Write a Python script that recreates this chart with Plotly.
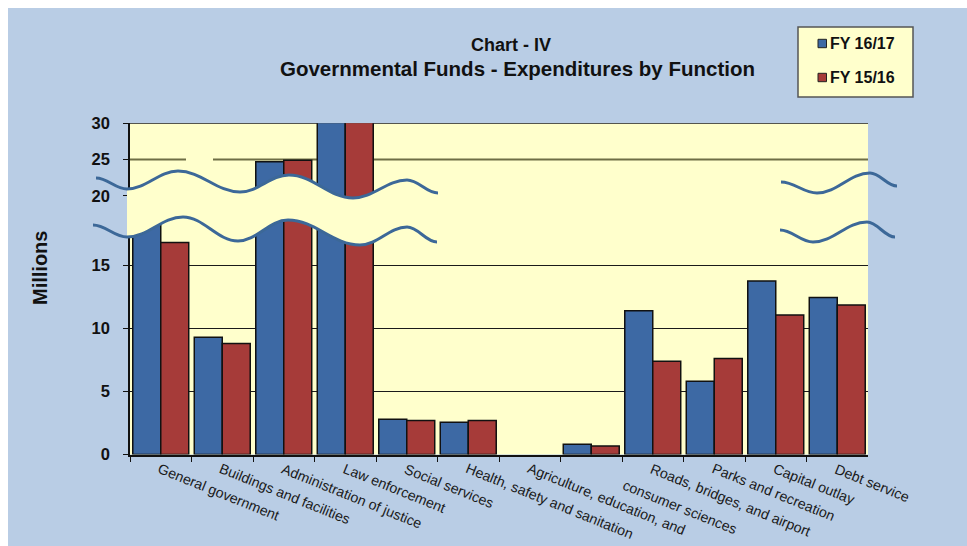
import plotly.graph_objects as go

# ---- data (millions) ----
categories = [
    "General government", "Buildings and facilities", "Administration of justice",
    "Law enforcement", "Social services", "Health, safety and sanitation",
    "Agriculture, education, and", "consumer sciences",
    "Roads, bridges, and airport", "Parks and recreation", "Capital outlay", "Debt service",
]
fy_1617 = [19.0, 9.3, 24.7, 33.0, 2.8, 2.55, 0.0, 0.81, 11.4, 5.8, 13.75, 12.45]
fy_1516 = [16.8, 8.8, 24.9, 32.5, 2.7, 2.7, 0.0, 0.67, 7.4, 7.6, 11.05, 11.85]
series_names = ["FY 16/17", "FY 15/16"]
lower_ticks = [0, 5, 10, 15]
upper_ticks = [20, 25, 30]

# ---- page geometry (pixels) ----
W, H = 967, 546
PLOT_L, PLOT_R = 130, 868
ZERO_Y, BREAK_Y, TOP_Y = 454.5, 200, 123.3
LOWER_MAX = 20.17          # value at the break on the lower scale
UPPER_MIN = 19.41          # value at the break on the upper scale


def X(px):
    return px / W


def Y(py):
    return 1 - py / H


BLUE, RED = "#3D69A4", "#A63B39"
BG_BLUE, PLOT_YELLOW = "#B9CDE5", "#FFFFCC"
FONT = "Liberation Sans, Arial, sans-serif"

fig = go.Figure()
for yaxis in ("y", "y2"):
    for name, vals, col in ((series_names[0], fy_1617, BLUE), (series_names[1], fy_1516, RED)):
        outline = [1.5 if v > 0 else 0 for v in vals]   # no outline for empty bars
        fig.add_trace(go.Bar(
            x=categories, y=vals, name=name, yaxis=yaxis, showlegend=False,
            marker=dict(color=col, line=dict(color="#111111", width=outline)),
            hoverinfo="skip",
        ))

tickfont = dict(family=FONT, size=16.5, color="#111111", weight="bold")

fig.update_layout(
    width=W, height=H,
    margin=dict(l=0, r=0, t=0, b=0, autoexpand=False),
    paper_bgcolor=BG_BLUE, plot_bgcolor=PLOT_YELLOW,
    barmode="group", bargap=0.09, bargroupgap=0,
    xaxis=dict(
        domain=[X(PLOT_L), X(PLOT_R)], type="category", range=[-0.5, 11.5],
        showline=True, linecolor="#111111", linewidth=1.5,
        ticks="outside", tickson="boundaries", ticklen=6, tickcolor="#111111",
        showticklabels=False, showgrid=False, anchor="y", automargin=False,
    ),
    yaxis=dict(
        domain=[Y(ZERO_Y), Y(BREAK_Y)], range=[0, LOWER_MAX],
        tickvals=lower_ticks, ticktext=[str(v) for v in lower_ticks],
        showgrid=True, gridcolor="#1a1a1a", gridwidth=1, zeroline=False,
        showline=True, linecolor="#111111", linewidth=1.5,
        ticks="outside", ticklen=5, tickcolor="#111111",
        tickfont=tickfont, ticklabelstandoff=10, anchor="x", automargin=False,
    ),
    yaxis2=dict(
        domain=[Y(BREAK_Y), Y(TOP_Y)], range=[UPPER_MIN, 30],
        tickvals=upper_ticks, ticktext=[str(v) for v in upper_ticks],
        showgrid=False, zeroline=False,
        showline=True, linecolor="#111111", linewidth=1.5,
        ticks="outside", ticklen=5, tickcolor="#111111",
        tickfont=tickfont, ticklabelstandoff=10, anchor="x", automargin=False,
    ),
)

shapes = []
# white border strips along the top and left edges
shapes.append(dict(type="rect", xref="paper", yref="paper", x0=0, x1=X(8), y0=0, y1=1,
                   fillcolor="white", line=dict(width=0), layer="above"))
shapes.append(dict(type="rect", xref="paper", yref="paper", x0=0, x1=1, y0=Y(8), y1=1,
                   fillcolor="white", line=dict(width=0), layer="above"))
# gridlines of the upper scale
shapes.append(dict(type="line", xref="x domain", yref="y2", x0=0, x1=1, y0=25, y1=25,
                   line=dict(color="#6E6E45", width=2), layer="below"))
shapes.append(dict(type="line", xref="x domain", yref="y2", x0=0, x1=1, y0=30, y1=30,
                   line=dict(color="#222222", width=1.5), layer="below"))


def seg_path(pts, start=True):
    """Smooth path through wave extrema using cubic Beziers with flat tangents."""
    out = f"M{X(pts[0][0]):.5f},{Y(pts[0][1]):.5f}" if start else ""
    for (xa, ya), (xb, yb) in zip(pts[:-1], pts[1:]):
        d = (xb - xa) * 0.38
        out += (f" C{X(xa + d):.5f},{Y(ya):.5f} {X(xb - d):.5f},{Y(yb):.5f}"
                f" {X(xb):.5f},{Y(yb):.5f}")
    return out


# axis-break waves
upper_left = [(96, 178), (127, 189), (178, 171), (240, 192), (289, 175), (353, 198), (407, 180), (438, 193)]
lower_left = [(93, 225), (127, 237), (183, 217), (238, 241), (288, 220), (360, 245), (407, 227), (437, 242)]
upper_right = [(781, 182), (817, 193), (870, 173), (897, 186)]
lower_right = [(780, 230), (813, 242), (867, 222), (895, 237)]

# break band filled with the plot colour
up = upper_left[1:]
lo = lower_left[1:]
band = seg_path(up) + f" L{X(lo[-1][0]):.5f},{Y(lo[-1][1]):.5f}" + seg_path(lo[::-1], start=False) + " Z"
shapes.append(dict(type="path", xref="paper", yref="paper", path=band,
                   fillcolor=PLOT_YELLOW, line=dict(width=0), layer="above"))
shapes.append(dict(type="rect", xref="paper", yref="paper", x0=X(186), x1=X(213), y0=Y(163), y1=Y(154),
                   fillcolor=PLOT_YELLOW, line=dict(width=0), layer="above"))
for pts in (upper_left, lower_left, upper_right, lower_right):
    shapes.append(dict(type="path", xref="paper", yref="paper", path=seg_path(pts),
                       line=dict(color="#3C6898", width=3), layer="above"))

# legend box
shapes.append(dict(type="rect", xref="paper", yref="paper", x0=X(798), x1=X(913), y0=Y(97), y1=Y(27),
                   fillcolor=PLOT_YELLOW, line=dict(color="#555555", width=1.5), layer="above"))
for (cy, col) in ((43.5, BLUE), (77.5, RED)):
    shapes.append(dict(type="rect", xref="paper", yref="paper", x0=X(818), x1=X(826.5),
                       y0=Y(cy + 4.2), y1=Y(cy - 4.2),
                       fillcolor=col, line=dict(color="#222222", width=1), layer="above"))

annotations = []
for name, cy in zip(series_names, (43.5, 77.5)):
    annotations.append(dict(text=name, xref="paper", yref="paper", x=X(828), y=Y(cy),
                            xanchor="left", yanchor="middle", showarrow=False,
                            font=dict(family=FONT, size=16, color="#111111", weight="bold")))

# titles
annotations.append(dict(text="Chart - IV", xref="paper", yref="paper", x=X(511), y=Y(45),
                        xanchor="center", yanchor="middle", showarrow=False,
                        font=dict(family=FONT, size=18, color="#111111", weight="bold")))
annotations.append(dict(text="Governmental Funds - Expenditures by Function", xref="paper", yref="paper",
                        x=X(517.5), y=Y(68), xanchor="center", yanchor="middle", showarrow=False,
                        font=dict(family=FONT, size=20.5, color="#111111", weight="bold")))
annotations.append(dict(text="Millions", xref="paper", yref="paper", x=X(40), y=Y(268),
                        xanchor="center", yanchor="middle", textangle=-90, showarrow=False,
                        font=dict(family=FONT, size=20, color="#111111", weight="bold")))

# slanted category labels
for i, cat in enumerate(categories):
    xs, ys = -6, 0
    if cat == "consumer sciences":
        xs, ys = 28, -17
    annotations.append(dict(text=cat, xref="x", yref="paper", x=cat, y=Y(459),
                            xanchor="left", yanchor="top", textangle=22, showarrow=False,
                            xshift=xs, yshift=ys, borderpad=0,
                            font=dict(family=FONT, size=14.2, color="#1a1a1a")))

fig.update_layout(shapes=shapes, annotations=annotations)
fig.write_html("out.html")
